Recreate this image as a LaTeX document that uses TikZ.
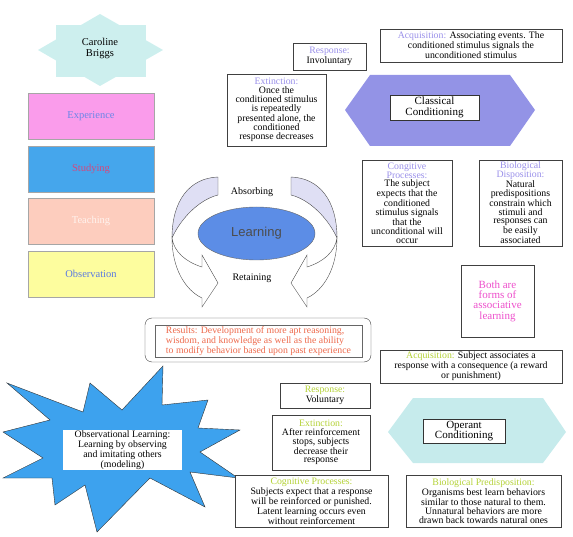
\documentclass[tikz,border=0pt]{standalone}
\usepackage{fontspec}
\setmainfont{Liberation Serif}
\newfontfamily\arialfont{Liberation Sans}
\usepackage{tikz}
\usetikzlibrary{shapes.geometric}

\definecolor{starcyan}{HTML}{CDEFEE}
\definecolor{exppink}{HTML}{FA9CEB}
\definecolor{studblue}{HTML}{45A6EC}
\definecolor{teachpeach}{HTML}{FDCDBE}
\definecolor{obsyellow}{HTML}{FDFD9E}
\definecolor{classhex}{HTML}{9393E6}
\definecolor{operhex}{HTML}{C6EBEC}
\definecolor{burstblue}{HTML}{3DA2EE}
\definecolor{learnblue}{HTML}{5C8DE6}
\definecolor{ringshade}{HTML}{DFDFF4}
\definecolor{classlabel}{HTML}{9A90EA}
\definecolor{operlabel}{HTML}{B4D236}
\definecolor{resultred}{HTML}{EE6A4C}
\definecolor{bothpink}{HTML}{EE50CC}
\definecolor{exptext}{HTML}{6A86E8}
\definecolor{studtext}{HTML}{D4487E}
\definecolor{teachtext}{HTML}{FFF3EE}
\definecolor{obstext}{HTML}{5A7AE2}

\newcommand{\classlab}[1]{\textcolor{classlabel}{#1}}
\newcommand{\operlab}[1]{\textcolor{operlabel}{#1}}

\begin{document}
\begin{tikzpicture}[
        x=1pt, y=-1pt,
        infobox/.style={rectangle, draw=black!75, fill=white, align=center, inner sep=1pt, font=\fontsize{9.8}{8.8}\selectfont},
        sidebox/.style={rectangle, draw=gray!70, minimum width=126pt, minimum height=46pt, font=\fontsize{10.5}{12}\selectfont},
        titlebox/.style={rectangle, draw=black!80, fill=white, align=center, inner sep=1pt, font=\fontsize{11}{10.7}\selectfont}
    ]
    \useasboundingbox (0,0) rectangle (573,537);

    % Name star
    \fill[starcyan] (56,25) rectangle (146,77);
    \fill[starcyan] (38,50) -- (100,14) -- (163,50) -- (100,86) -- cycle;
    \node[align=center, font=\fontsize{10.5}{11}\selectfont] (name) at (100,48) {Caroline\\Briggs};

    % Ways of learning
    \node[sidebox, fill=exppink, text=exptext] (experience) at (91,116) {Experience};
    \node[sidebox, fill=studblue, text=studtext] (studying) at (91,169) {Studying};
    \node[sidebox, fill=teachpeach, text=teachtext] (teaching) at (91,221) {Teaching};
    \node[sidebox, fill=obsyellow, text=obstext] (observation) at (91,274) {Observation};

    % Learning ring
    \foreach \sx/\dx in {1/0, -1/509} {
        \begin{scope}[shift={(\dx,0)}, xscale=\sx]
            \filldraw[draw=black!70, fill=ringshade, thin] (218,177) .. controls (190,178) and (172,200) .. (172,238)
                .. controls (180,220) and (198,200) .. (218,195) -- cycle;
            \filldraw[draw=black!70, fill=white, thin] (172,238) .. controls (172,268) and (185,290) .. (202,298)
                -- (202,307) -- (218,283) -- (202,255) -- (202,267)
                .. controls (186,262) and (174,252) .. (172,238) -- cycle;
        \end{scope}
    }
    \node[ellipse, draw=black!60, fill=learnblue, minimum width=117pt, minimum height=53pt, inner sep=0pt,
          font=\arialfont\fontsize{13}{13}\selectfont, text=black!70] (learning) at (256.5,233.5) {Learning};
    \node[font=\fontsize{10}{10}\selectfont] (absorbing) at (252,192) {Absorbing};
    \node[font=\fontsize{10}{10}\selectfont] (retaining) at (252,278) {Retaining};

    % Classical conditioning
    \fill[classhex] (345,110) -- (370,75) -- (510,75) -- (535,110) -- (510,146) -- (370,146) -- cycle;
    \node[titlebox, minimum width=89pt, minimum height=25pt] (classical) at (434.5,107.5) {Classical\\Conditioning};
    \node[infobox, minimum width=73pt, minimum height=27pt] (cresponse) at (329.5,56.5) {\classlab{Response:}\\Involuntary};
    \node[infobox, minimum width=182pt, minimum height=33pt] (cacquisition) at (471,45.5)
        {\classlab{Acquisition:} Associating events. The\\conditioned stimulus signals the\\unconditioned stimulus};
    \node[infobox, minimum width=99pt, minimum height=72pt] (cextinction) at (276.5,110)
        {\classlab{Extinction:}\\Once the\\conditioned stimulus\\is repeatedly\\presented alone, the\\conditioned\\response decreases};
    \node[infobox, minimum width=90pt, minimum height=86pt] (ccognitive) at (407,203)
        {\classlab{Congitive}\\\classlab{Processes:}\\The subject\\expects that the\\conditioned\\stimulus signals\\that the\\unconditional will\\occur};
    \node[infobox, minimum width=83pt, minimum height=86pt] (cbiological) at (520.5,203)
        {\classlab{Biological}\\\classlab{Disposition:}\\Natural\\predispositions\\constrain which\\stimuli and\\responses can\\be easily\\associated};

    % Shared note
    \node[infobox, minimum width=73pt, minimum height=72pt, text=bothpink, font=\fontsize{11}{10.3}\selectfont] (both) at (497.5,301)
        {Both are\\forms of\\associative\\learning};

    % Results
    \node[rectangle, rounded corners=7pt, draw=black!75, minimum width=226pt, minimum height=44pt] (resultsframe) at (258,340) {};
    \node[infobox, draw=black!60, minimum width=207pt, minimum height=32pt, align=left, text=resultred] (results) at (258.5,341)
        {Results: Development of more apt reasoning,\\wisdom, and knowledge as well as the ability\\to modify behavior based upon past experience};

    % Observational learning
    \filldraw[fill=burstblue, draw=black!80, thin] (3,432) -- (50,420) -- (7,383) -- (83,412) -- (90,383) -- (122,410)
        -- (163,366) -- (162,405) -- (208,400) -- (198,428) -- (240,430) -- (200,452) -- (238,478) -- (190,472)
        -- (205,507) -- (150,478) -- (97,532) -- (85,485) -- (55,505) -- (52,478) -- (3,478) -- (43,458) -- cycle;
    \node[infobox, draw=none, minimum width=119pt, minimum height=40pt] (observational) at (122.5,450)
        {Observational Learning:\\Learning by observing\\and imitating others\\(modeling)};

    % Operant conditioning
    \fill[operhex] (388,432) -- (413,398) -- (543,398) -- (566,432) -- (543,463) -- (413,463) -- cycle;
    \node[titlebox, minimum width=82pt, minimum height=24pt] (operant) at (464,431) {Operant\\Conditioning};
    \node[infobox, minimum width=182pt, minimum height=33pt] (oacquisition) at (471,366.5)
        {\operlab{Acquisition:} Subject associates a\\response with a consequence (a reward\\or punishment)};
    \node[infobox, minimum width=90pt, minimum height=25pt] (oresponse) at (325,395.5) {\operlab{Response:}\\Voluntary};
    \node[infobox, minimum width=98pt, minimum height=55pt] (oextinction) at (321,442.5)
        {\operlab{Extinction:}\\After reinforcement\\stops, subjects\\decrease their\\response};
    \node[infobox, minimum width=153pt, minimum height=52pt] (ocognitive) at (311.5,501)
        {\operlab{Cognitive Processes:}\\Subjects expect that a response\\will be reinforced or punished.\\Latent learning occurs even\\without reinforcement};
    \node[infobox, minimum width=155pt, minimum height=52pt] (obiological) at (483.5,501)
        {\operlab{Biological Predisposition:}\\Organisms best learn behaviors\\similar to those natural to them.\\Unnatural behaviors are more\\drawn back towards natural ones};

\end{tikzpicture}
\end{document}
